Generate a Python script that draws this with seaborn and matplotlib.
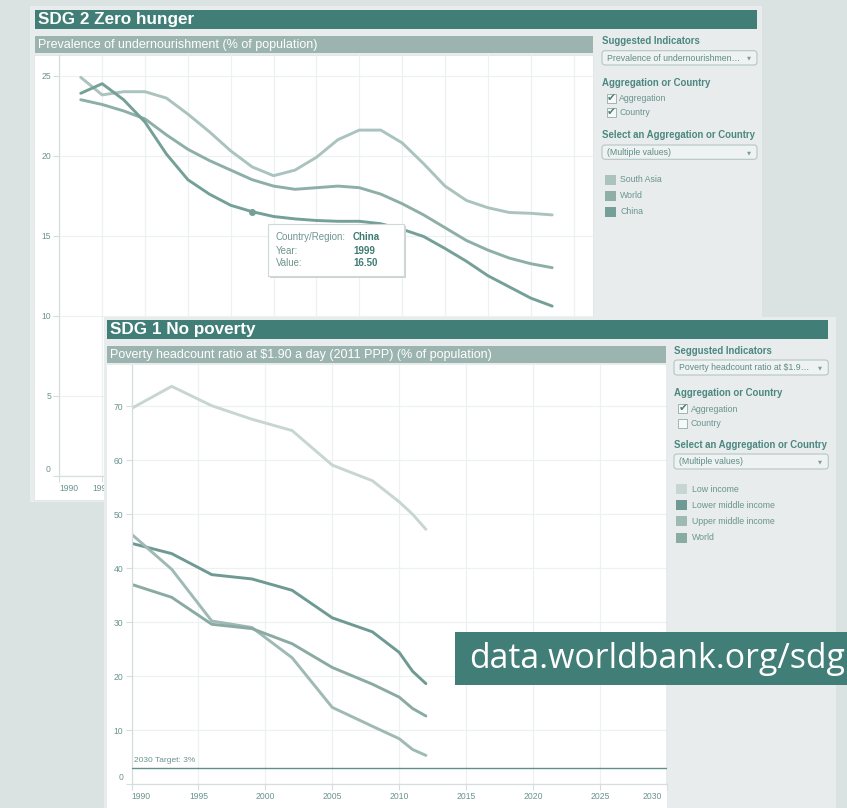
import matplotlib
matplotlib.use('Agg')
import matplotlib.pyplot as plt
import matplotlib.transforms as mtransforms
from matplotlib.patches import Rectangle, FancyBboxPatch
import numpy as np
import pandas as pd
import seaborn as sns

# ---------------- data ----------------
hunger_years = list(range(1991, 2014))
hunger_south_asia = [24.9, 23.8, 24.0, 24.0, 23.6, 22.6, 21.5, 20.3, 19.3, 18.75, 19.1, 19.9,
                     21.0, 21.6, 21.6, 20.8, 19.5, 18.1, 17.2, 16.75, 16.45, 16.4, 16.3]
hunger_world = [23.5, 23.2, 22.8, 22.3, 21.3, 20.4, 19.7, 19.1, 18.5, 18.1, 17.9, 18.0,
                18.1, 18.0, 17.6, 17.0, 16.3, 15.5, 14.7, 14.1, 13.6, 13.25, 13.0]
hunger_china = [23.9, 24.5, 23.5, 22.1, 20.1, 18.5, 17.6, 16.9, 16.5, 16.2, 16.05, 15.95,
                15.9, 15.9, 15.75, 15.4, 14.95, 14.2, 13.4, 12.5, 11.8, 11.1, 10.6]
hunger_series = ['South Asia', 'World', 'China']

poverty_years = [1990, 1993, 1996, 1999, 2002, 2005, 2008, 2010, 2011, 2012]
poverty_low = [69.6, 73.7, 70.1, 67.6, 65.5, 59.1, 56.2, 52.3, 50.0, 47.2]
poverty_lower_middle = [44.6, 42.7, 38.8, 38.0, 35.9, 30.8, 28.2, 24.4, 20.9, 18.6]
poverty_upper_middle = [46.3, 39.8, 30.2, 29.0, 23.4, 14.2, 10.7, 8.4, 6.4, 5.3]
poverty_world = [37.0, 34.6, 29.6, 28.8, 26.0, 21.6, 18.5, 16.1, 14.0, 12.6]
poverty_series = ['Low income', 'Lower middle income', 'Upper middle income', 'World']

top_xticks = list(range(1990, 2015, 2))
top_yticks = [0, 5, 10, 15, 20, 25]
bot_xticks = list(range(1990, 2031, 5))
bot_yticks = [0, 10, 20, 30, 40, 50, 60, 70]
target_value = 3
tooltip_country = 'China'
tooltip_year = 1999

# ---------------- style ----------------
sns.set_theme(style='white')
plt.rcParams['font.family'] = ['Liberation Sans', 'DejaVu Sans']

BG = '#dbe3e2'
CARD = '#e8eced'
TITLE = '#417e77'
SUB = '#9bb4af'
TEAL_TXT = '#4b8780'
BODY_TXT = '#6a948e'
TICK_TXT = '#6a948e'
GRID = '#edf1f0'
AXLINE = '#d6dedd'

hunger_pal = {'South Asia': '#abc3be', 'World': '#8eaea8', 'China': '#74a097'}
poverty_pal = {'Low income': '#c8d6d3', 'Lower middle income': '#6e9a93',
               'Upper middle income': '#9fb9b4', 'World': '#8aaaa4'}

W, H = 847, 808
fig = plt.figure(figsize=(W / 100, H / 100), dpi=100)
fig.patch.set_facecolor(BG)


def rect(x0, y0, x1, y1, fc, z, ec='none', lw=0):
    fig.add_artist(Rectangle((x0 / W, 1 - y1 / H), (x1 - x0) / W, (y1 - y0) / H,
                             transform=fig.transFigure, facecolor=fc, edgecolor=ec,
                             lw=lw, zorder=z))


def rbox(x0, y0, x1, y1, fc, ec, z, lw=0.8):
    fig.add_artist(FancyBboxPatch((x0 / W, 1 - y1 / H), (x1 - x0) / W, (y1 - y0) / H,
                                  boxstyle='round,pad=0,rounding_size=0.004',
                                  transform=fig.transFigure, facecolor=fc, edgecolor=ec,
                                  lw=lw, zorder=z))


def txt(x, y, s, size, color, z, weight='normal', ha='left', va='center', family=None):
    kw = {}
    if family is not None:
        kw['family'] = family
    fig.text(x / W, 1 - y / H, s, fontsize=size, color=color, weight=weight,
             ha=ha, va=va, zorder=z, **kw)


def make_axes(x0, y0, x1, y1, z):
    ax = fig.add_axes([x0 / W, 1 - y1 / H, (x1 - x0) / W, (y1 - y0) / H])
    ax.set_zorder(z)
    ax.patch.set_alpha(0)
    return ax


def style_axes(ax, xticks, yticks):
    ax.set_xticks(xticks)
    ax.set_yticks(yticks)
    ax.grid(True, color=GRID, lw=0.9)
    for s in ['top', 'right']:
        ax.spines[s].set_visible(False)
    for s in ['left', 'bottom']:
        ax.spines[s].set_color(AXLINE)
        ax.spines[s].set_linewidth(0.9)
    ax.tick_params(axis='both', labelsize=6.2, labelcolor=TICK_TXT, color=AXLINE,
                   length=4, width=0.8, pad=2, left=True, bottom=True)
    ax.set_xlabel('')
    ax.set_ylabel('')
    # shift the "0" label up, as in the reference
    ylabs = ax.get_yticklabels()
    off = mtransforms.ScaledTranslation(0, 0.07, fig.dpi_scale_trans)
    ylabs[0].set_transform(ylabs[0].get_transform() + off)


def checkbox(x, y, checked, z):
    rect(x, y - 4.5, x + 9, y + 4.5, '#f7f9f9', z, ec='#9fb4b0', lw=0.7)
    if checked:
        txt(x + 4.8, y - 0.6, '\u2714', 7.8, '#4e7f78', z + 0.01, ha='center',
            family='DejaVu Sans')


def dropdown(x0, y0, x1, y1, label, z):
    rbox(x0, y0, x1, y1, '#eef2f2', '#b4c6c3', z)
    txt(x0 + 5, (y0 + y1) / 2 + 0.3, label, 6.3, '#5f8c86', z + 0.01)
    txt(x1 - 8, (y0 + y1) / 2 + 0.3, '\u25BC', 3.8, '#7e9c98', z + 0.01, ha='center',
        family='DejaVu Sans')


# ================= TOP CARD (SDG 2) =================
rect(30, 6, 762, 502, CARD, 0.1)
rect(35, 10, 757, 29, TITLE, 0.2)
txt(38, 19.8, 'SDG 2 Zero hunger', 12.3, 'white', 0.3, weight='bold')
rect(35, 36, 593, 53, SUB, 0.2)
txt(38, 44.8, 'Prevalence of undernourishment (% of population)', 9.0, 'white', 0.3)
rect(34, 54.5, 593, 500, 'white', 0.2, ec='#dfe6e5', lw=0.6)

ax1 = make_axes(59.3, 54.5, 593, 475.7, 0.5)
hdf = pd.DataFrame({
    'Year': hunger_years * 3,
    'Value': hunger_south_asia + hunger_world + hunger_china,
    'Series': sum([[s] * len(hunger_years) for s in hunger_series], []),
})
sns.lineplot(data=hdf, x='Year', y='Value', hue='Series', hue_order=hunger_series,
             palette=hunger_pal, ax=ax1, legend=False, linewidth=2.1, sort=False)
ax1.set_xlim(1990, 1990 + (593 - 59.3) / 21.43)
ax1.set_ylim(0, (475.7 - 54.5) / 16.0)
style_axes(ax1, top_xticks, top_yticks)
ax1.set_xticklabels([str(t) for t in top_xticks])
xl = ax1.get_xticklabels()
xl[0].set_horizontalalignment('left')
tip_val = hunger_china[hunger_years.index(tooltip_year)]
ax1.plot([tooltip_year], [tip_val], 'o', ms=4, color=hunger_pal['China'], zorder=5)

# tooltip
rect(269.5, 225.5, 405.5, 277.5, '#c9d3d2', 0.75)
rect(268, 224, 404, 276, 'white', 0.8, ec='#cfd9d8', lw=0.8)
txt(276, 237.5, 'Country/Region:', 7.0, '#6f958f', 0.85)
txt(276, 250.5, 'Year:', 7.0, '#6f958f', 0.85)
txt(276, 262.5, 'Value:', 7.0, '#6f958f', 0.85)
txt(353, 237.5, tooltip_country, 7.0, '#3f7a72', 0.85, weight='bold')
txt(353, 250.5, str(tooltip_year), 7.0, '#3f7a72', 0.85, weight='bold')
txt(353, 262.5, f'{tip_val:.2f}', 7.0, '#3f7a72', 0.85, weight='bold')

# right control panel (top)
txt(602, 41, 'Suggested Indicators', 6.9, TEAL_TXT, 0.3, weight='bold')
dropdown(602, 50.7, 757, 65, 'Prevalence of undernourishmen\u2026', 0.3)
txt(602, 83, 'Aggregation or Country', 6.9, TEAL_TXT, 0.3, weight='bold')
checkbox(606.5, 98.3, True, 0.3)
txt(619, 98.3, 'Aggregation', 6.3, BODY_TXT, 0.3)
checkbox(606.5, 112.7, True, 0.3)
txt(619, 112.7, 'Country', 6.3, BODY_TXT, 0.3)
txt(602, 135.3, 'Select an Aggregation or Country', 6.9, TEAL_TXT, 0.3, weight='bold')
dropdown(602, 145, 757, 159.3, '(Multiple values)', 0.3)
for i, s in enumerate(hunger_series):
    yc = 180 + 16 * i
    rect(605, yc - 5, 616, yc + 5, hunger_pal[s], 0.3)
    txt(620, yc, s, 6.3, BODY_TXT, 0.3)

# ================= BOTTOM CARD (SDG 1) =================
rect(104, 317, 836, 810, CARD, 1.0)
rect(107, 320, 828, 339, TITLE, 1.1)
txt(110, 329.8, 'SDG 1 No poverty', 12.3, 'white', 1.2, weight='bold')
rect(107, 346, 666, 363, SUB, 1.1)
txt(110, 354.8, 'Poverty headcount ratio at $1.90 a day (2011 PPP) (% of population)',
    9.0, 'white', 1.2)
rect(107, 364.5, 666.8, 810, 'white', 1.1)

ax2 = make_axes(131.5, 364.5, 666.8, 784, 1.5)
pdf = pd.DataFrame({
    'Year': poverty_years * 4,
    'Value': poverty_low + poverty_lower_middle + poverty_upper_middle + poverty_world,
    'Series': sum([[s] * len(poverty_years) for s in poverty_series], []),
})
sns.lineplot(data=pdf, x='Year', y='Value', hue='Series', hue_order=poverty_series,
             palette=poverty_pal, ax=ax2, legend=False, linewidth=2.1, sort=False)
ax2.set_xlim(1990, 2030)
ax2.set_ylim(0, (784 - 364.5) / 5.396)
style_axes(ax2, bot_xticks, bot_yticks)
ax2.set_xticklabels([str(t) for t in bot_xticks])
xl2 = ax2.get_xticklabels()
xl2[0].set_horizontalalignment('left')
xl2[-1].set_horizontalalignment('right')
off_l = mtransforms.ScaledTranslation(-0.05, 0, fig.dpi_scale_trans)
xl2[-1].set_transform(xl2[-1].get_transform() + off_l)
ax2.axhline(target_value, color='#5d9088', lw=1.0, zorder=4)
ax2.annotate(f'2030 Target: {target_value}%', xy=(1990, target_value), xytext=(3, 4),
             textcoords='offset pixels', fontsize=6.0, color='#6a948e', va='bottom',
             ha='left')
ax2.spines['right'].set_visible(True)
ax2.spines['right'].set_color('#e4eaea')

# right control panel (bottom)
txt(674, 351, 'Seggusted Indicators', 6.9, TEAL_TXT, 1.2, weight='bold')
dropdown(674, 360, 828.3, 375, 'Poverty headcount ratio at $1.9\u2026', 1.2)
txt(674, 392.7, 'Aggregation or Country', 6.9, TEAL_TXT, 1.2, weight='bold')
checkbox(678, 409, True, 1.2)
txt(690.5, 409, 'Aggregation', 6.3, BODY_TXT, 1.2)
checkbox(678, 423.3, False, 1.2)
txt(690.5, 423.3, 'Country', 6.3, BODY_TXT, 1.2)
txt(674, 445.3, 'Select an Aggregation or Country', 6.9, TEAL_TXT, 1.2, weight='bold')
dropdown(674, 454, 828.3, 469, '(Multiple values)', 1.2)
for i, s in enumerate(poverty_series):
    yc = 489 + 16.2 * i
    rect(676, yc - 5, 687, yc + 5, poverty_pal[s], 1.2)
    txt(691.5, yc, s, 6.3, BODY_TXT, 1.2)

# ================= WATERMARK =================
rect(455, 632, 860, 685, TITLE, 3.0)
txt(469, 658.5, 'data.worldbank.org/sdg', 24.4, 'white', 3.1,
    family=['Open Sans', 'DejaVu Sans'])

fig.savefig('out.png', dpi=100, facecolor=BG)
